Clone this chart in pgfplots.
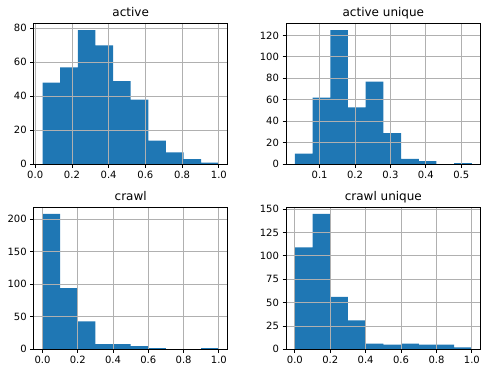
\documentclass[border=0pt]{standalone}
\usepackage{fontspec}
\setmainfont{DejaVu Sans}
\usepackage{pgfplots}
\pgfplotsset{compat=1.18}
\definecolor{mplblue}{HTML}{1F77B4}
\definecolor{mplgrid}{HTML}{B0B0B0}
\pgfplotsset{
  histo/.style={
    scale only axis,
    anchor=south west,
    axis on top,
    grid=major,
    grid style={mplgrid, line width=0.8pt},
    axis line style={black, line width=0.8pt},
    tick style={black, line width=0.8pt},
    major tick length=3.5pt,
    tick align=outside,
    xtick pos=bottom, ytick pos=left,
    ymin=0,
    tick label style={font=\fontsize{10}{12}\selectfont},
    title style={font=\fontsize{12}{14}\selectfont, anchor=base, inner sep=0pt, yshift=0.5pt},
    /pgf/number format/assume math mode=true,
    xticklabel style={/pgf/number format/.cd, fixed, fixed zerofill, precision=1},
    yticklabel style={/pgf/number format/.cd, fixed, precision=0},
  },
  bars/.style={ybar interval, fill=mplblue, draw=none},
}
\begin{document}
\begin{tikzpicture}
\useasboundingbox (0,0) rectangle (490pt,373pt);
% active
\begin{axis}[histo, at={(33.7pt,208.7pt)}, width=194pt, height=141pt,
  title={active}, xmin=-0.008, xmax=1.048, ymax=82.95,
  xtick={0,0.2,0.4,0.6,0.8,1.0}, ytick={0,20,40,60,80}]
\addplot[bars] coordinates {(0.04,48) (0.136,57) (0.232,79) (0.328,70) (0.424,49) (0.52,38) (0.616,14) (0.712,7) (0.808,3) (0.904,1) (1.0,0)};
\end{axis}
% active unique
\begin{axis}[histo, at={(286pt,208.7pt)}, width=194.7pt, height=141pt,
  title={active unique}, xmin=0.005, xmax=0.555, ymax=131.25,
  xtick={0.1,0.2,0.3,0.4,0.5}, ytick={0,20,40,60,80,100,120}]
\addplot[bars] coordinates {(0.03,10) (0.08,62) (0.13,125) (0.18,53) (0.23,77) (0.28,29) (0.33,5) (0.38,3) (0.43,0) (0.48,1) (0.53,0)};
\end{axis}
% crawl
\begin{axis}[histo, at={(33.7pt,23.7pt)}, width=194pt, height=142.3pt,
  title={crawl}, xmin=-0.05, xmax=1.05, ymax=218.4,
  xtick={0,0.2,0.4,0.6,0.8,1.0}, ytick={0,50,100,150,200}]
\addplot[bars] coordinates {(0,208) (0.1,94) (0.2,43) (0.3,8) (0.4,8) (0.5,5) (0.6,2) (0.7,0) (0.8,0) (0.9,2) (1.0,0)};
\end{axis}
% crawl unique
\begin{axis}[histo, at={(286pt,23.7pt)}, width=194.7pt, height=142.3pt,
  title={crawl unique}, xmin=-0.05, xmax=1.05, ymax=152.25,
  xtick={0,0.2,0.4,0.6,0.8,1.0}, ytick={0,25,50,75,100,125,150}]
\addplot[bars] coordinates {(0,109) (0.1,145) (0.2,56) (0.3,31) (0.4,6) (0.5,5) (0.6,6) (0.7,5) (0.8,5) (0.9,2) (1.0,0)};
\end{axis}
\end{tikzpicture}
\end{document}
